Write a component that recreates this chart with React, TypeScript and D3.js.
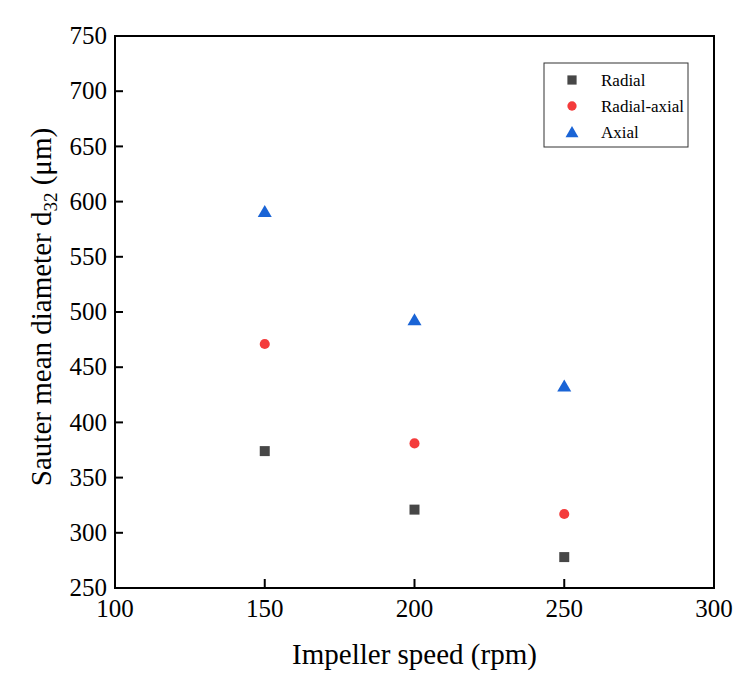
import React from "react";
import * as d3 from "d3";

const speeds = [150, 200, 250];
const radial = [374, 321, 278];
const radialAxial = [471, 381, 317];
const axial = [591, 493, 433];
const xTicks = [100, 150, 200, 250, 300];
const yTicks = [250, 300, 350, 400, 450, 500, 550, 600, 650, 700, 750];
const seriesNames = ["Radial", "Radial-axial", "Axial"];
const seriesColors = ["#474747", "#f43b3b", "#1a64d6"];

const W = 749, H = 676;
const m = { left: 115, right: 714, top: 36, bottom: 588 };
const font = "'Liberation Serif', 'Times New Roman', serif";

export default function App() {
  const x = d3.scaleLinear().domain([100, 300]).range([m.left, m.right]);
  const y = d3.scaleLinear().domain([250, 750]).range([m.bottom, m.top]);
  const sym = [d3.symbolSquare, d3.symbolCircle, d3.symbolTriangle];
  const sizes = [100, 80, 85];
  const series = [radial, radialAxial, axial];
  const path = (i: number) => d3.symbol().type(sym[i]).size(sizes[i])()!;
  const tri = (i: number) => (i === 2 ? 1.5 : 0);

  return (
    <svg width={W} height={H} style={{ position: "absolute", left: 0, top: 0, background: "#fff" }} fontFamily={font}>
      <rect x={m.left} y={m.top} width={m.right - m.left} height={m.bottom - m.top} fill="none" stroke="#000" strokeWidth={2} />
      {yTicks.map((t) => (
        <g key={"y" + t}>
          {t > 250 && t < 750 && <line x1={m.left} x2={m.left + 8} y1={y(t)} y2={y(t)} stroke="#000" strokeWidth={2} />}
          <text x={m.left - 8} y={y(t)} dy="0.33em" textAnchor="end" fontSize={25}>{t}</text>
        </g>
      ))}
      {xTicks.map((t) => (
        <g key={"x" + t}>
          {t > 100 && t < 300 && <line x1={x(t)} x2={x(t)} y1={m.bottom} y2={m.bottom - 9} stroke="#000" strokeWidth={2} />}
          <text x={x(t)} y={617} textAnchor="middle" fontSize={25}>{t}</text>
        </g>
      ))}
      <text x={(m.left + m.right) / 2} y={664} textAnchor="middle" fontSize={29}>Impeller speed (rpm)</text>
      <text transform={`translate(51,307) rotate(-90)`} textAnchor="middle" fontSize={29}>
        Sauter mean diameter d<tspan fontSize={19} dy={6}>32</tspan><tspan dy={-6}> (μm)</tspan>
      </text>
      {series.map((vals, i) =>
        vals.map((v, j) => (
          <path key={i + "-" + j} d={path(i)} transform={`translate(${x(speeds[j])},${y(v) + tri(i)})`} fill={seriesColors[i]} />
        ))
      )}
      <rect x={544} y={63} width={144} height={84} fill="#fff" stroke="#333" strokeWidth={1} />
      {seriesNames.map((n, i) => (
        <g key={n}>
          <path d={d3.symbol().type(sym[i]).size(sizes[i] * 0.85)()!} transform={`translate(572,${80 + i * 26 + tri(i)})`} fill={seriesColors[i]} />
          <text x={601} y={80 + i * 26} dy="0.35em" fontSize={17}>{n}</text>
        </g>
      ))}
    </svg>
  );
}
